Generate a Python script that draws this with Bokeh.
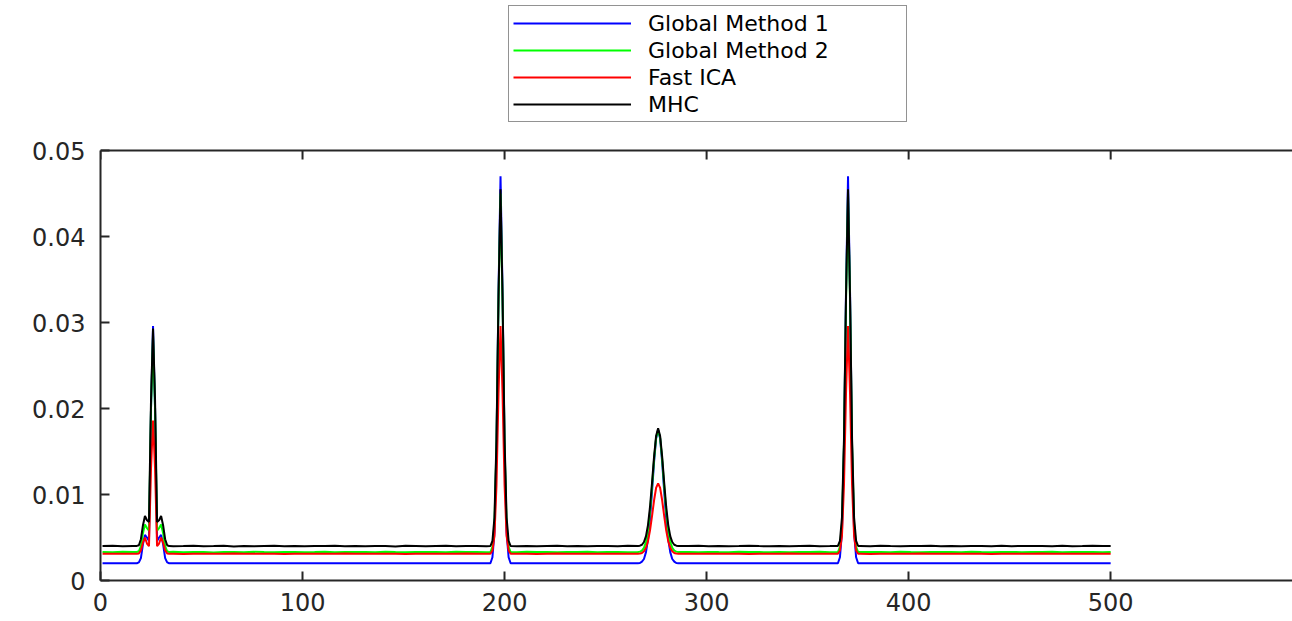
from bokeh.plotting import figure
from bokeh.models import Range1d, FixedTicker, Legend, LegendItem, Span
from bokeh.embed import file_html
from bokeh.resources import INLINE

# ---- data -------------------------------------------------------------
# flat stretches are sampled every 5 points; the peaks are sampled at every point
BASE_X = list(range(1, 500, 5)) + [500]

BLUE_BASE = [
    0.00201, 0.00201, 0.00200, 0.00201, 0.00202, 0.00201, 0.00200, 0.00201, 0.00201, 0.00202,
    0.00201, 0.00200, 0.00201, 0.00201, 0.00202, 0.00201, 0.00200, 0.00201, 0.00201, 0.00201,
    0.00202, 0.00201, 0.00200, 0.00201, 0.00201, 0.00202, 0.00201, 0.00201, 0.00200, 0.00201,
    0.00201, 0.00202, 0.00201, 0.00200, 0.00201, 0.00201, 0.00201, 0.00202, 0.00201, 0.00200,
    0.00201, 0.00201, 0.00202, 0.00201, 0.00200, 0.00201, 0.00201, 0.00202, 0.00201, 0.00201,
    0.00200, 0.00201, 0.00201, 0.00202, 0.00201, 0.00200, 0.00201, 0.00201, 0.00201, 0.00202,
    0.00201, 0.00200, 0.00201, 0.00201, 0.00202, 0.00201, 0.00201, 0.00200, 0.00201, 0.00201,
    0.00202, 0.00201, 0.00200, 0.00201, 0.00201, 0.00201, 0.00202, 0.00201, 0.00200, 0.00201,
    0.00201, 0.00202, 0.00201, 0.00200, 0.00201, 0.00201, 0.00202, 0.00201, 0.00201, 0.00200,
    0.00201, 0.00201, 0.00202, 0.00201, 0.00200, 0.00201, 0.00201, 0.00201, 0.00202, 0.00201,
    0.00201,
]
GREEN_BASE = [
    0.00331, 0.00329, 0.00333, 0.00330, 0.00328, 0.00332, 0.00330, 0.00334, 0.00329, 0.00331,
    0.00330, 0.00327, 0.00332, 0.00331, 0.00329, 0.00333, 0.00330, 0.00328, 0.00331, 0.00332,
    0.00329, 0.00330, 0.00334, 0.00328, 0.00331, 0.00330, 0.00332, 0.00329, 0.00333, 0.00330,
    0.00328, 0.00331, 0.00330, 0.00332, 0.00329, 0.00334, 0.00330, 0.00331, 0.00328, 0.00332,
    0.00330, 0.00329, 0.00333, 0.00331, 0.00330, 0.00328, 0.00332, 0.00330, 0.00334, 0.00329,
    0.00331, 0.00330, 0.00328, 0.00332, 0.00331, 0.00329, 0.00333, 0.00330, 0.00331, 0.00328,
    0.00332, 0.00330, 0.00329, 0.00334, 0.00331, 0.00330, 0.00328, 0.00332, 0.00329, 0.00331,
    0.00330, 0.00333, 0.00329, 0.00331, 0.00328, 0.00332, 0.00330, 0.00331, 0.00329, 0.00333,
    0.00330, 0.00328, 0.00332, 0.00330, 0.00331, 0.00329, 0.00334, 0.00330, 0.00328, 0.00331,
    0.00332, 0.00329, 0.00331, 0.00330, 0.00333, 0.00328, 0.00331, 0.00330, 0.00332, 0.00329,
    0.00331,
]
RED_BASE = [
    0.00311, 0.00312, 0.00310, 0.00311, 0.00313, 0.00310, 0.00311, 0.00312, 0.00309, 0.00311,
    0.00312, 0.00310, 0.00311, 0.00313, 0.00311, 0.00310, 0.00312, 0.00311, 0.00309, 0.00312,
    0.00311, 0.00310, 0.00312, 0.00311, 0.00313, 0.00310, 0.00311, 0.00312, 0.00310, 0.00311,
    0.00309, 0.00312, 0.00311, 0.00310, 0.00312, 0.00311, 0.00313, 0.00310, 0.00311, 0.00312,
    0.00310, 0.00311, 0.00312, 0.00309, 0.00311, 0.00313, 0.00310, 0.00312, 0.00311, 0.00310,
    0.00312, 0.00311, 0.00310, 0.00311, 0.00313, 0.00309, 0.00312, 0.00311, 0.00310, 0.00312,
    0.00311, 0.00310, 0.00312, 0.00311, 0.00309, 0.00312, 0.00310, 0.00311, 0.00313, 0.00311,
    0.00310, 0.00312, 0.00311, 0.00310, 0.00312, 0.00311, 0.00309, 0.00312, 0.00311, 0.00310,
    0.00311, 0.00313, 0.00310, 0.00312, 0.00311, 0.00310, 0.00312, 0.00311, 0.00309, 0.00311,
    0.00312, 0.00310, 0.00311, 0.00313, 0.00310, 0.00311, 0.00312, 0.00310, 0.00311, 0.00312,
    0.00311,
]
BLACK_BASE = [
    0.00401, 0.00404, 0.00398, 0.00402, 0.00400, 0.00397, 0.00403, 0.00399, 0.00401, 0.00405,
    0.00398, 0.00400, 0.00403, 0.00396, 0.00401, 0.00399, 0.00402, 0.00404, 0.00398, 0.00400,
    0.00397, 0.00402, 0.00400, 0.00403, 0.00399, 0.00401, 0.00398, 0.00402, 0.00400, 0.00396,
    0.00403, 0.00401, 0.00399, 0.00402, 0.00404, 0.00398, 0.00400, 0.00401, 0.00397, 0.00403,
    0.00400, 0.00399, 0.00402, 0.00398, 0.00401, 0.00404, 0.00399, 0.00400, 0.00397, 0.00402,
    0.00401, 0.00398, 0.00403, 0.00400, 0.00399, 0.00402, 0.00396, 0.00401, 0.00400, 0.00403,
    0.00398, 0.00402, 0.00399, 0.00401, 0.00404, 0.00400, 0.00397, 0.00402, 0.00399, 0.00401,
    0.00403, 0.00398, 0.00400, 0.00402, 0.00399, 0.00401, 0.00397, 0.00403, 0.00400, 0.00398,
    0.00402, 0.00400, 0.00404, 0.00399, 0.00401, 0.00398, 0.00402, 0.00400, 0.00397, 0.00403,
    0.00399, 0.00401, 0.00400, 0.00402, 0.00398, 0.00403, 0.00399, 0.00401, 0.00404, 0.00400,
    0.00402,
]

# peak windows (every sample)
PEAK1_X = list(range(18, 35))
PEAK2_X = list(range(193, 204))
PEAK3_X = list(range(266, 287))
PEAK4_X = list(range(365, 376))

BLUE_PEAK1 = [0.00201, 0.00210, 0.00260, 0.00420, 0.00530, 0.00500, 0.00460, 0.02000, 0.02960,
              0.02000, 0.00460, 0.00500, 0.00530, 0.00420, 0.00260, 0.00210, 0.00201]
BLUE_PEAK2 = [0.00201, 0.00270, 0.00560, 0.01550, 0.03350, 0.04700, 0.03350, 0.01550, 0.00560,
              0.00270, 0.00201]
BLUE_PEAK3 = [0.00201, 0.00203, 0.00220, 0.00250, 0.00330, 0.00480, 0.00720, 0.01040, 0.01380,
              0.01650, 0.01750, 0.01650, 0.01380, 0.01040, 0.00720, 0.00480, 0.00330, 0.00250,
              0.00220, 0.00203, 0.00201]
BLUE_PEAK4 = [0.00201, 0.00270, 0.00560, 0.01550, 0.03350, 0.04700, 0.03350, 0.01550, 0.00560,
              0.00270, 0.00201]

GREEN_PEAK1 = [0.00331, 0.00340, 0.00400, 0.00550, 0.00650, 0.00610, 0.00580, 0.02000, 0.02850,
               0.02000, 0.00580, 0.00610, 0.00650, 0.00550, 0.00400, 0.00340, 0.00330]
GREEN_PEAK2 = [0.00330, 0.00390, 0.00660, 0.01580, 0.03250, 0.04500, 0.03250, 0.01580, 0.00660,
               0.00390, 0.00331]
GREEN_PEAK3 = [0.00331, 0.00336, 0.00347, 0.00380, 0.00451, 0.00586, 0.00804, 0.01095, 0.01409,
               0.01660, 0.01750, 0.01660, 0.01409, 0.01095, 0.00804, 0.00586, 0.00451, 0.00380,
               0.00347, 0.00336, 0.00330]
GREEN_PEAK4 = [0.00331, 0.00390, 0.00660, 0.01580, 0.03250, 0.04500, 0.03250, 0.01580, 0.00660,
               0.00390, 0.00330]

RED_PEAK1 = [0.00311, 0.00315, 0.00350, 0.00440, 0.00500, 0.00430, 0.00400, 0.01300, 0.01860,
             0.01300, 0.00400, 0.00430, 0.00500, 0.00440, 0.00350, 0.00315, 0.00311]
RED_PEAK2 = [0.00311, 0.00350, 0.00520, 0.01110, 0.02170, 0.02960, 0.02170, 0.01110, 0.00520,
             0.00350, 0.00311]
RED_PEAK3 = [0.00311, 0.00313, 0.00320, 0.00339, 0.00380, 0.00458, 0.00584, 0.00752, 0.00933,
             0.01076, 0.01130, 0.01076, 0.00933, 0.00752, 0.00584, 0.00458, 0.00380, 0.00339,
             0.00320, 0.00313, 0.00311]
RED_PEAK4 = [0.00311, 0.00350, 0.00520, 0.01110, 0.02170, 0.02960, 0.02170, 0.01110, 0.00520,
             0.00350, 0.00311]

BLACK_PEAK1 = [0.00402, 0.00410, 0.00480, 0.00640, 0.00750, 0.00700, 0.00680, 0.02100, 0.02930,
               0.02100, 0.00680, 0.00700, 0.00750, 0.00640, 0.00480, 0.00410, 0.00400]
BLACK_PEAK2 = [0.00401, 0.00462, 0.00732, 0.01645, 0.03300, 0.04550, 0.03300, 0.01645, 0.00732,
               0.00462, 0.00400]
BLACK_PEAK3 = [0.00401, 0.00405, 0.00416, 0.00448, 0.00516, 0.00647, 0.00858, 0.01138, 0.01441,
               0.01680, 0.01770, 0.01680, 0.01441, 0.01138, 0.00858, 0.00647, 0.00516, 0.00448,
               0.00416, 0.00405, 0.00402]
BLACK_PEAK4 = [0.00402, 0.00462, 0.00732, 0.01645, 0.03300, 0.04550, 0.03300, 0.01645, 0.00732,
               0.00462, 0.00401]

NAMES = ["Global Method 1", "Global Method 2", "Fast ICA", "MHC"]
COLORS = ["#0000ff", "#00ff00", "#ff0000", "#000000"]

X_TICKS = [0, 100, 200, 300, 400, 500]
Y_TICKS = [0, 0.01, 0.02, 0.03, 0.04, 0.05]
Y_LABELS = ["0", "0.01", "0.02", "0.03", "0.04", "0.05"]


def assemble(base, peaks):
    """Merge the coarse flat samples with the dense peak samples."""
    pts = dict(zip(BASE_X, base))
    for px, py in peaks:
        lo, hi = min(px), max(px)
        for k in [k for k in pts if lo <= k <= hi]:
            del pts[k]
        pts.update(zip(px, py))
    xs = sorted(pts)
    return xs, [pts[k] for k in xs]


PEAK_XS = [PEAK1_X, PEAK2_X, PEAK3_X, PEAK4_X]
SERIES = [
    (BLUE_BASE, [BLUE_PEAK1, BLUE_PEAK2, BLUE_PEAK3, BLUE_PEAK4]),
    (GREEN_BASE, [GREEN_PEAK1, GREEN_PEAK2, GREEN_PEAK3, GREEN_PEAK4]),
    (RED_BASE, [RED_PEAK1, RED_PEAK2, RED_PEAK3, RED_PEAK4]),
    (BLACK_BASE, [BLACK_PEAK1, BLACK_PEAK2, BLACK_PEAK3, BLACK_PEAK4]),
]

# ---- figure -----------------------------------------------------------
FONT = "DejaVu Sans"
INK = "#262626"

W, H = 1292, 621
LEFT, BOTTOM = 100, 41              # space for the tick labels
BOX_TOP_PX = 150                    # the axes box starts this far below the top
Y_MAX = Y_TICKS[-1]
PX_PER_UNIT = (H - BOTTOM - BOX_TOP_PX) / Y_MAX
# the plotting area runs to the top of the page so the legend can sit above the box
Y_END = Y_MAX + BOX_TOP_PX / PX_PER_UNIT

p = figure(
    width=W, height=H,
    output_backend="svg", toolbar_location=None,
    x_range=Range1d(0, 590), y_range=Range1d(0, Y_END),
    min_border_left=LEFT, min_border_right=0,
    min_border_top=0, min_border_bottom=BOTTOM,
    background_fill_color="white", border_fill_color="white",
)
p.outline_line_color = None
p.xgrid.visible = False
p.ygrid.visible = False


def style_axis(ax):
    ax.axis_line_color = INK
    ax.axis_line_width = 2
    ax.major_tick_line_color = INK
    ax.major_tick_line_width = 2
    ax.major_tick_in = 9
    ax.major_tick_out = 0
    ax.minor_tick_in = 0
    ax.minor_tick_out = 0
    ax.major_label_text_font = FONT
    ax.major_label_text_font_size = "24px"
    ax.major_label_text_color = INK


xa = p.xaxis[0]
style_axis(xa)
xa.ticker = FixedTicker(ticks=X_TICKS)
xa.major_label_standoff = 12

ya = p.yaxis[0]
style_axis(ya)
ya.ticker = FixedTicker(ticks=Y_TICKS)
ya.bounds = (0, Y_MAX)
ya.major_label_overrides = {t: s for t, s in zip(Y_TICKS, Y_LABELS)}
ya.major_label_standoff = 15

# top edge of the axes box with its inward ticks
p.add_layout(Span(location=Y_MAX, dimension="width", line_color=INK, line_width=2))
TICK_LEN = 9 / PX_PER_UNIT
p.segment(x0=X_TICKS, y0=[Y_MAX] * len(X_TICKS), x1=X_TICKS,
          y1=[Y_MAX - TICK_LEN] * len(X_TICKS), line_color=INK, line_width=2)

items = []
for name, color, (base, peaks) in zip(NAMES, COLORS, SERIES):
    xs, ys = assemble(base, zip(PEAK_XS, peaks))
    r = p.line(xs, ys, line_color=color, line_width=2)
    items.append(LegendItem(label=name, renderers=[r]))

legend = Legend(
    items=items, location=(408, 458),
    label_text_font=FONT, label_text_font_size="22px", label_text_color="#000000",
    label_text_baseline="middle",
    glyph_width=118, glyph_height=26, label_height=26, label_width=254,
    label_standoff=17, spacing=1, padding=4, margin=0,
    border_line_color=INK, border_line_width=1, background_fill_color="white",
    background_fill_alpha=1.0,
)
p.add_layout(legend, "center")

open("out.html", "w").write(file_html(p, INLINE))
